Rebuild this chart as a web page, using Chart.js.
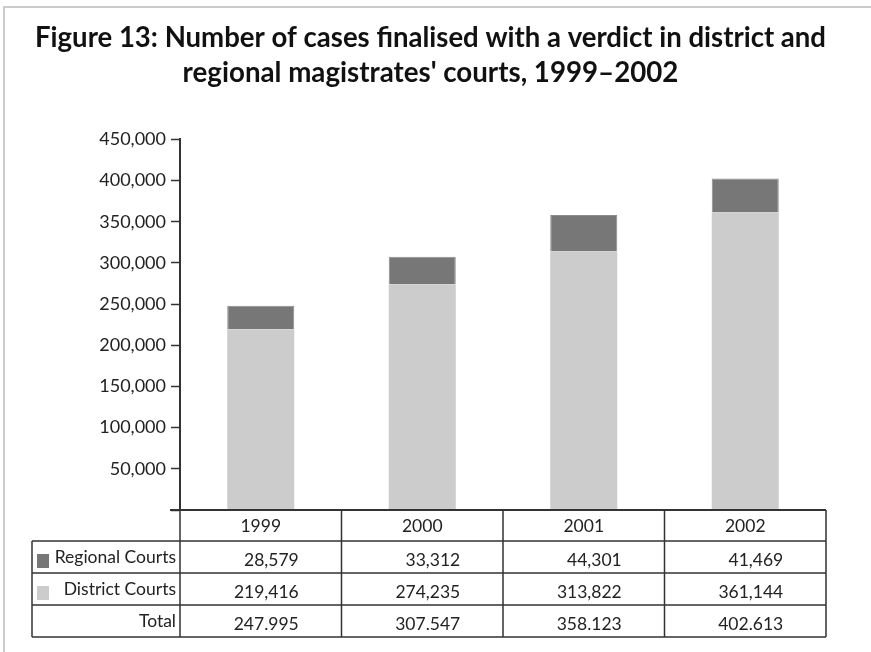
<!DOCTYPE html>
<html>
<head>
<meta charset="utf-8">
<script src="https://cdn.jsdelivr.net/npm/chart.js@4"></script>
<style>
  html, body { margin: 0; padding: 0; background: #fff; }
  #wrap { width: 871px; height: 652px; }
</style>
</head>
<body>
<div id="wrap"><canvas id="courtsChart" width="871" height="652"></canvas></div>
<script>
// data
var years = ['1999', '2000', '2001', '2002'];
var regionalCourts = [28579, 33312, 44301, 41469];
var districtCourts = [219416, 274235, 313822, 361144];
var totalLabels = ['247.995', '307.547', '358.123', '402.613'];
var yTicks = [0, 50000, 100000, 150000, 200000, 250000, 300000, 350000, 400000, 450000];

var rowNames = ['Regional Courts', 'District Courts', 'Total'];
var rowColors = ['#777777', '#cccccc', null];

var fmt = function (v) { return v.toLocaleString('en-US'); };

// data table under the bars, columns follow the x scale
var dataTable = {
    id: 'dataTable',
    beforeDraw: function (chart) {
        var c = chart.ctx;
        c.save();
        c.strokeStyle = '#cccccc';
        c.lineWidth = 2;
        c.beginPath();
        c.moveTo(4, 652);
        c.lineTo(4, 7);
        c.lineTo(871, 7);
        c.stroke();
        c.restore();
    },
    afterDraw: function (chart) {
        var c = chart.ctx;
        var area = chart.chartArea;
        var x = chart.scales.x;
        var colW = (area.right - area.left) / years.length;
        var top = area.bottom;
        var headH = 31, rowH = 32;
        var labelLeft = 32;
        var bottom = top + headH + rowH * 3;

        c.save();
        c.strokeStyle = '#333333';

        // axis line
        c.lineWidth = 2;
        c.beginPath();
        c.moveTo(area.left - 10, top);
        c.lineTo(area.right, top);
        c.stroke();

        c.lineWidth = 1.5;
        c.beginPath();
        for (var r = 0; r <= 3; r++) {
            var yy = top + headH + r * rowH;
            c.moveTo(labelLeft, yy);
            c.lineTo(area.right, yy);
        }
        c.moveTo(labelLeft, top + headH);
        c.lineTo(labelLeft, bottom);
        for (var i = 0; i <= years.length; i++) {
            var xx = area.left + i * colW;
            c.moveTo(xx, top);
            c.lineTo(xx, bottom);
        }
        c.stroke();

        c.fillStyle = '#222222';
        c.font = '17.5px Lato';
        c.textBaseline = 'middle';

        // header
        c.textAlign = 'center';
        years.forEach(function (yr, i) {
            c.fillText(yr, x.getPixelForValue(i), top + headH / 2 + 1);
        });

        var rows = [regionalCourts.map(fmt), districtCourts.map(fmt), totalLabels];
        rows.forEach(function (vals, r) {
            var cy = top + headH + r * rowH + rowH / 2 + 3;
            c.textAlign = 'right';
            vals.forEach(function (v, i) {
                c.fillText(v, x.getPixelForValue(i) + 38, cy);
            });
            c.fillText(rowNames[r], area.left - 4, cy - 3);
            if (rowColors[r]) {
                c.fillStyle = rowColors[r];
                c.fillRect(37, cy - 6, 12, 14);
                c.fillStyle = '#222222';
            }
        });
        c.restore();
    }
};

var ctx = document.getElementById('courtsChart').getContext('2d');
var courtsChart = new Chart(ctx, {
    type: 'bar',
    data: {
        labels: years,
        datasets: [{
            label: 'District Courts',
            data: districtCourts,
            backgroundColor: '#cccccc',
            categoryPercentage: 1,
            barPercentage: 0.415
        }, {
            label: 'Regional Courts',
            data: regionalCourts,
            backgroundColor: '#777777',
            borderColor: '#8a8a8a',
            borderWidth: 1,
            categoryPercentage: 1,
            barPercentage: 0.415
        }]
    },
    options: {
        responsive: false,
        animation: false,
        layout: {
            padding: { left: 35, right: 45, top: 0, bottom: 142 }
        },
        scales: {
            x: {
                stacked: true,
                display: false
            },
            y: {
                stacked: true,
                min: 0,
                max: 450000,
                afterFit: function (scale) { scale.width = 145; },
                afterBuildTicks: function (scale) {
                    scale.ticks = yTicks.map(function (v) { return { value: v }; });
                },
                border: { display: true, color: '#333333', width: 2 },
                grid: {
                    drawOnChartArea: false,
                    drawTicks: true,
                    tickLength: 9,
                    tickColor: '#333333',
                    tickWidth: 1.5
                },
                ticks: {
                    padding: 5,
                    color: '#222222',
                    font: { family: 'Lato', size: 18 },
                    callback: function (value) {
                        return value === 0 ? '' : fmt(value);
                    }
                }
            }
        },
        plugins: {
            legend: { display: false },
            tooltip: { enabled: false },
            title: {
                display: true,
                text: ['Figure 13: Number of cases finalised with a verdict in district and',
                       "regional magistrates' courts, 1999\u20132002"],
                color: '#111111',
                font: { family: 'Lato', size: 27.7, weight: 'bold', lineHeight: 1.27 },
                padding: { top: 20, bottom: 49 }
            }
        }
    },
    plugins: [dataTable]
});
</script>
</body>
</html>
